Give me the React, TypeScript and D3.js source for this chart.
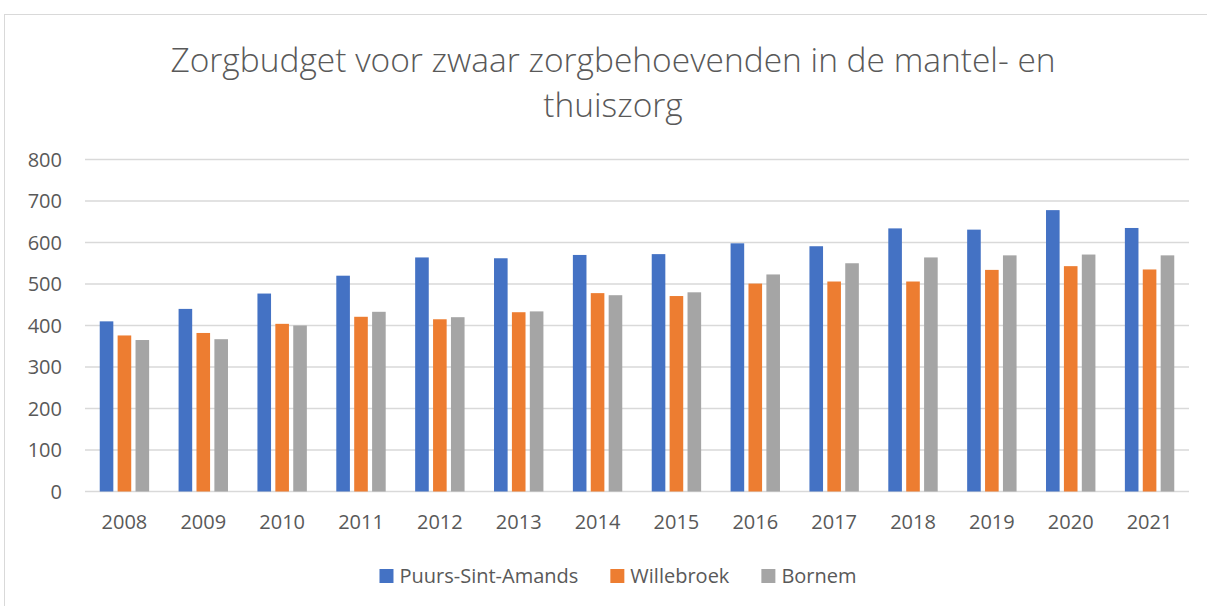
import React, { useEffect, useRef } from "react";
import * as d3 from "d3";

const years = ["2008", "2009", "2010", "2011", "2012", "2013", "2014", "2015", "2016", "2017", "2018", "2019", "2020", "2021"];
const puurs = [410, 440, 477, 520, 564, 562, 570, 572, 598, 591, 634, 631, 678, 635];
const willebroek = [376, 382, 404, 421, 415, 432, 478, 471, 501, 506, 506, 534, 543, 535];
const bornem = [365, 367, 400, 433, 420, 434, 473, 480, 523, 550, 564, 569, 571, 569];
const seriesNames = ["Puurs-Sint-Amands", "Willebroek", "Bornem"];
const yTicks = [0, 100, 200, 300, 400, 500, 600, 700, 800];

const colors = ["#4472C4", "#ED7D31", "#A5A5A5"];
const titleLines = ["Zorgbudget voor zwaar zorgbehoevenden in de mantel- en", "thuiszorg"];

const App = () => {
    const ref = useRef<SVGSVGElement>(null);
    const width = 1207;
    const height = 606;

    useEffect(() => {
        document.body.style.margin = "0";
        const svg = d3.select(ref.current);
        svg.selectAll("*").remove();

        const margin = { top: 159.5, right: 18, bottom: 114.5, left: 85 };
        const font = "'Open Sans', sans-serif";
        const textColor = "#595959";
        const values = [puurs, willebroek, bornem];

        // chart frame
        svg.append("rect")
            .attr("x", 4.5).attr("y", 14.5)
            .attr("width", 1220).attr("height", 620)
            .attr("fill", "#fff")
            .attr("stroke", "#d9d9d9");

        const x = d3.scaleBand()
            .domain(years)
            .range([margin.left, width - margin.right]);

        const y = d3.scaleLinear()
            .domain([0, 800])
            .range([height - margin.bottom, margin.top]);

        // grid
        svg.append("g")
            .selectAll("line")
            .data(yTicks)
            .join("line")
            .attr("x1", margin.left)
            .attr("x2", width - margin.right)
            .attr("y1", (d) => y(d))
            .attr("y2", (d) => y(d))
            .attr("stroke", "#d9d9d9")
            .attr("stroke-width", 1.5);

        // y labels
        svg.append("g")
            .selectAll("text")
            .data(yTicks)
            .join("text")
            .attr("x", 62)
            .attr("y", (d) => y(d))
            .attr("dy", "0.35em")
            .attr("text-anchor", "end")
            .style("font-family", font)
            .style("font-size", "20px")
            .style("fill", textColor)
            .text((d) => d);

        // bars
        const barW = 13.6;
        const step = 17.9;
        values.forEach((vals, si) => {
            svg.append("g")
                .selectAll("rect")
                .data(vals)
                .join("rect")
                .attr("x", (d, i) => x(years[i])! + x.bandwidth() / 2 + (si - 1) * step - barW / 2)
                .attr("y", (d) => y(d))
                .attr("width", barW)
                .attr("height", (d) => y(0) - y(d))
                .attr("fill", colors[si]);
        });

        // x labels
        svg.append("g")
            .selectAll("text")
            .data(years)
            .join("text")
            .attr("x", (d) => x(d)! + x.bandwidth() / 2)
            .attr("y", 529)
            .attr("text-anchor", "middle")
            .style("font-family", font)
            .style("font-size", "20px")
            .style("fill", textColor)
            .text((d) => d);

        // title
        svg.append("g")
            .selectAll("text")
            .data(titleLines)
            .join("text")
            .attr("x", 613)
            .attr("y", (d, i) => 72 + i * 45)
            .attr("text-anchor", "middle")
            .style("font-family", font)
            .style("font-size", "33.5px")
            .style("font-weight", 300)
            .style("fill", textColor)
            .text((d) => d);

        // legend
        const legend = svg.append("g");
        const items = legend.selectAll("g")
            .data(seriesNames)
            .join("g");
        items.append("rect")
            .attr("width", 14).attr("height", 14)
            .attr("y", 569)
            .attr("fill", (d, i) => colors[i]);
        items.append("text")
            .attr("x", 20)
            .attr("y", 576)
            .attr("dy", "0.35em")
            .style("font-family", font)
            .style("font-size", "20px")
            .style("fill", textColor)
            .text((d) => d);
        let offset = 0;
        const offsets: number[] = [];
        items.each(function () {
            const t = d3.select(this).select("text").node() as SVGTextElement;
            offsets.push(offset);
            offset += 20 + t.getComputedTextLength() + 32;
        });
        const total = offset - 32;
        const start = 618 - total / 2;
        items.attr("transform", (d, i) => `translate(${start + offsets[i]},0)`);
    }, []);

    return <svg ref={ref} width={width} height={height} style={{ display: "block" }}></svg>;
};

export default App;
